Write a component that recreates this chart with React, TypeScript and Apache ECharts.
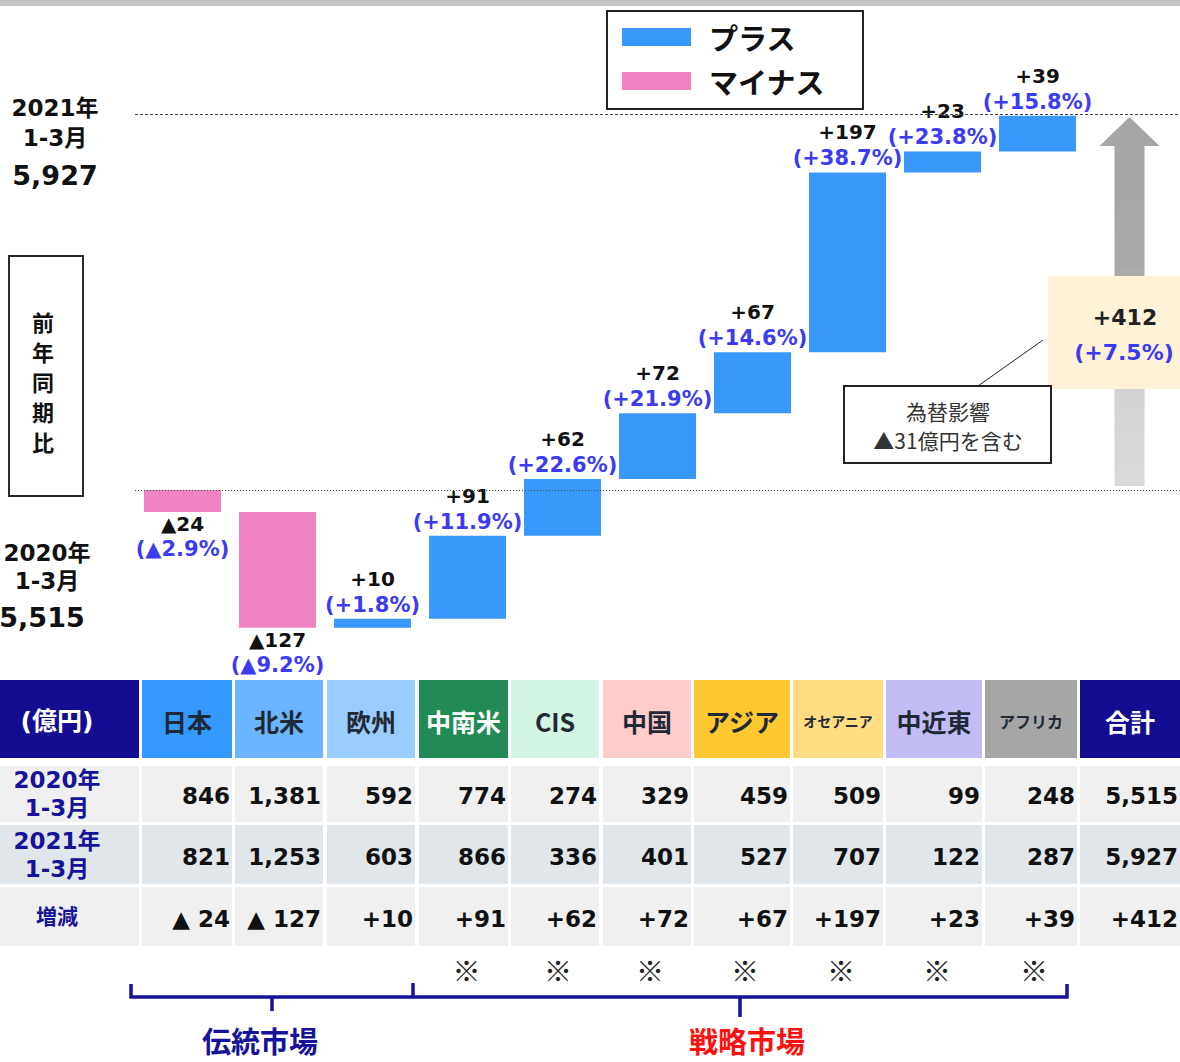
import React, { useEffect, useRef } from 'react';
import * as echarts from 'echarts';

// ---------- data ----------
const regions = ['日本', '北米', '欧州', '中南米', 'CIS', '中国', 'アジア', 'オセアニア', '中近東', 'アフリカ'];
const totalName = '合計';
const sales2020 = [846, 1381, 592, 774, 274, 329, 459, 509, 99, 248];
const sales2021 = [821, 1253, 603, 866, 336, 401, 527, 707, 122, 287];
const deltas = [-24, -127, 10, 91, 62, 72, 67, 197, 23, 39];
const pcts = [-2.9, -9.2, 1.8, 11.9, 22.6, 21.9, 14.6, 38.7, 23.8, 15.8];
const strategic = [false, false, false, true, true, true, true, true, true, true];
const total2020 = 5515;
const total2021 = 5927;
const totalDelta = 412;
const totalPct = 7.5;
const fxNote = ['為替影響', '▲31億円を含む'];
const rowLabels = ['2020年\n1-3月', '2021年\n1-3月', '増減'];
const unitLabel = '(億円)';
const sideTitle = ['前', '年', '同', '期', '比'];
const groupLabels = ['伝統市場', '戦略市場'];
const legendNames = ['プラス', 'マイナス'];

// ---------- styles ----------
const NUM = "'DejaVu Sans', 'Noto Sans CJK JP', sans-serif";
const JP = "'Noto Sans CJK JP', 'DejaVu Sans', sans-serif";
const BLUE = '#3898fc';
const PINK = '#ef82c1';
const PCT = '#3b3bf2';
const NAVY = '#16129a';
const headerFills = ['#140c91', '#3399ff', '#6bb5ff', '#99ccff', '#218a55', '#d3f5e3', '#ffcccc', '#ffc830', '#ffdd80', '#c3bdf7', '#a6a6a6', '#140c91'];
const headerInk = ['#fff', '#1f2a36', '#1f2a36', '#1f2a36', '#fff', '#1f2a36', '#1f2a36', '#1f2a36', '#1f2a36', '#1f2a36', '#1f2a36', '#fff'];
const headerSize = [25, 25, 25, 25, 25, 25, 25, 25, 14, 25, 16, 25];
const colX = [0, 142, 235, 327, 419, 511, 603, 694, 793, 886, 985, 1080];
const colW = [139, 90, 88, 88, 89, 88, 88, 96, 90, 96, 92, 100];
const rowY = [680, 766, 825, 887];
const rowH = [78, 56, 59, 59];
const rowFill = ['#f0f0f0', '#e1e6eb', '#f0f0f0'];

const fmt = (n: number) => n.toLocaleString('en-US');

function txt(x: number, y: number, text: string, o: any = {}) {
  const align = o.align || 'center';
  return {
    type: 'text',
    x,
    y,
    z: o.z ?? 50,
    silent: true,
    style: {
      text,
      fill: o.fill || '#111',
      fontSize: o.size || 20,
      fontWeight: o.weight || 'bold',
      fontFamily: o.family || NUM,
      lineHeight: o.lh,
      align,
      textAlign: align,
      verticalAlign: 'middle',
      textVerticalAlign: 'middle',
    },
  };
}

export default function App() {
  const ref = useRef<HTMLDivElement>(null);

  useEffect(() => {
    document.body.style.margin = '0';
    const chart = echarts.init(ref.current!, null, { renderer: 'svg' });

    // waterfall stacks
    let cum = total2020;
    const base: any[] = [];
    const plus: any[] = [];
    const minus: any[] = [];
    deltas.forEach((d) => {
      const next = cum + d;
      base.push(Math.min(cum, next));
      if (d >= 0) {
        plus.push(d);
        minus.push('-');
      } else {
        plus.push('-');
        minus.push(-d);
      }
      cum = next;
    });
    base.push('-');
    plus.push('-');
    minus.push('-');

    const graphic: any[] = [];
    // top band
    graphic.push({ type: 'rect', shape: { x: 0, y: 0, width: 1180, height: 6 }, style: { fill: '#c3c3c3' } });
    // legend frame
    graphic.push({ type: 'rect', shape: { x: 607, y: 11, width: 256, height: 98 }, style: { fill: 'none', stroke: '#222', lineWidth: 2 } });

    // left labels
    graphic.push(txt(55, 123, '2021年\n1-3月', { size: 23, lh: 30 }));
    graphic.push(txt(55, 175, fmt(total2021), { size: 27 }));
    graphic.push(txt(47, 567, '2020年\n1-3月', { size: 23, lh: 28 }));
    graphic.push(txt(42, 617, fmt(total2020), { size: 27 }));
    graphic.push({ type: 'rect', shape: { x: 9, y: 256, width: 74, height: 240 }, style: { fill: 'none', stroke: '#2a2a2a', lineWidth: 2 } });
    sideTitle.forEach((ch, i) => {
      graphic.push(txt(43, 321 + i * 30, ch, { size: 22, family: JP }));
    });

    // total box and note
    graphic.push({ type: 'rect', z: 100, shape: { x: 1048, y: 276, width: 132, height: 113 }, style: { fill: '#fff2d6' } });
    graphic.push(txt(1125, 317, '+' + totalDelta, { size: 22, z: 101, fill: '#222' }));
    graphic.push(txt(1124, 352, '(+' + totalPct.toFixed(1) + '%)', { size: 22, z: 101, fill: PCT }));
    graphic.push({ type: 'line', z: 100, shape: { x1: 978, y1: 386, x2: 1043, y2: 340 }, style: { stroke: '#222', lineWidth: 1 } });
    graphic.push({ type: 'rect', z: 100, shape: { x: 844, y: 386, width: 207, height: 77 }, style: { fill: '#fff', stroke: '#222', lineWidth: 2 } });
    graphic.push(txt(948, 411, fxNote[0], { size: 21, weight: 'normal', family: JP, fill: '#333', z: 101 }));
    graphic.push(txt(948, 440, fxNote[1], { size: 21, weight: 'normal', family: JP, fill: '#333', z: 101 }));

    // table
    const headers = [unitLabel, ...regions, totalName];
    headers.forEach((h, c) => {
      graphic.push({ type: 'rect', shape: { x: colX[c], y: rowY[0], width: colW[c], height: rowH[0] }, style: { fill: headerFills[c] } });
      const cx = c === 0 ? 57 : colX[c] + colW[c] / 2;
      graphic.push(txt(cx, rowY[0] + rowH[0] / 2 + 2, h, { size: headerSize[c], fill: headerInk[c], family: c === 0 ? NUM : JP }));
    });
    const rowsData = [
      [...sales2020.map(fmt), fmt(total2020)],
      [...sales2021.map(fmt), fmt(total2021)],
      [...deltas.map((d) => (d < 0 ? '▲ ' + -d : '+' + d)), '+' + totalDelta],
    ];
    rowsData.forEach((vals, r) => {
      const y = rowY[r + 1];
      const h = rowH[r + 1];
      for (let c = 0; c < colX.length; c++) {
        graphic.push({ type: 'rect', shape: { x: colX[c], y, width: colW[c], height: h }, style: { fill: rowFill[r] } });
      }
      graphic.push(txt(57, y + h / 2, rowLabels[r], { size: r === 2 ? 21 : 23, fill: NAVY, lh: 28 }));
      vals.forEach((v, i) => {
        const c = i + 1;
        graphic.push(txt(colX[c] + colW[c] - 2, y + h / 2 + 2, v, { size: 23, align: 'right', fill: '#111' }));
      });
    });

    // ※ marks
    strategic.forEach((s, i) => {
      if (s) graphic.push(txt(colX[i + 1] + colW[i + 1] / 2 + 3, 970, '※', { size: 28, weight: 'normal', family: JP, fill: '#222' }));
    });
    // brackets
    const bs = { stroke: NAVY, lineWidth: 3.5, fill: 'none' };
    graphic.push({ type: 'polyline', shape: { points: [[131, 984], [131, 997], [1067, 997], [1067, 984]] }, style: bs });
    graphic.push({ type: 'line', shape: { x1: 413, y1: 997, x2: 413, y2: 983 }, style: bs });
    graphic.push({ type: 'line', shape: { x1: 272, y1: 997, x2: 272, y2: 1011 }, style: bs });
    graphic.push({ type: 'line', shape: { x1: 740, y1: 997, x2: 740, y2: 1017 }, style: bs });
    graphic.push(txt(260, 1040, groupLabels[0], { size: 29, family: JP, fill: NAVY }));
    graphic.push(txt(747, 1040, groupLabels[1], { size: 29, family: JP, fill: '#ff1010' }));

    const rich = {
      v: { fontFamily: NUM, fontSize: 20, fontWeight: 'bold', color: '#111', lineHeight: 26 },
      p: { fontFamily: NUM, fontSize: 21, fontWeight: 'bold', color: PCT, lineHeight: 26 },
    };

    chart.setOption({
      animation: false,
      grid: { left: 135, right: 0, top: 47.38, bottom: 375.79 },
      xAxis: { type: 'category', data: [...regions, totalName], show: false },
      yAxis: { type: 'value', min: 5300, max: 6000, show: false, splitLine: { show: false } },
      legend: {
        data: legendNames,
        orient: 'vertical',
        left: 622,
        top: 22,
        padding: 0,
        itemWidth: 69,
        itemHeight: 18,
        itemGap: 14,
        icon: 'rect',
        selectedMode: false,
        textStyle: { fontSize: 29, fontWeight: 'bold', fontFamily: JP, color: '#111', lineHeight: 30, padding: [0, 0, 0, 13] },
      },
      graphic: { elements: graphic },
      series: [
        {
          name: 'base',
          type: 'bar',
          stack: 'w',
          barWidth: 77,
          data: base,
          itemStyle: { color: 'transparent' },
          silent: true,
          markLine: {
            silent: true,
            symbol: 'none',
            label: { show: false },
            data: [
              { yAxis: total2021, lineStyle: { color: '#444', width: 1, type: [3, 2] } },
              { yAxis: total2020, lineStyle: { color: '#444', width: 1, type: [1, 2] } },
            ],
          },
        },
        {
          name: legendNames[0],
          type: 'bar',
          stack: 'w',
          barWidth: 77,
          data: plus,
          itemStyle: { color: BLUE },
          label: {
            show: true,
            position: 'top',
            distance: 1,
            rich,
            formatter: (p: any) => `{v|+${deltas[p.dataIndex]}}\n{p|(+${pcts[p.dataIndex].toFixed(1)}%)}`,
          },
        },
        {
          name: legendNames[1],
          type: 'bar',
          stack: 'w',
          barWidth: 77,
          data: minus,
          itemStyle: { color: PINK },
          label: {
            show: true,
            position: 'bottom',
            distance: 0,
            rich: {
              v: { ...rich.v, lineHeight: 24 },
              p: { ...rich.p, lineHeight: 26 },
            },
            formatter: (p: any) => `{v|▲${-deltas[p.dataIndex]}}\n{p|(▲${(-pcts[p.dataIndex]).toFixed(1)}%)}`,
          },
        },
        {
          name: 'total',
          type: 'custom',
          silent: true,
          encode: { x: 0, y: [1, 2] },
          data: [[regions.length, total2020, total2021]],
          renderItem: (params: any, api: any) => {
            const top = api.coord([api.value(0), api.value(2)]);
            const bot = api.coord([api.value(0), api.value(1)]);
            const cx = top[0] - 3;
            const ty = top[1] + 3;
            const by = bot[1] - 4;
            const hh = 29;
            const hw = 30;
            const sw = 15;
            return {
              type: 'polygon',
              shape: {
                points: [
                  [cx, ty], [cx + hw, ty + hh], [cx + sw, ty + hh], [cx + sw, by],
                  [cx - sw, by], [cx - sw, ty + hh], [cx - hw, ty + hh],
                ],
              },
              style: {
                fill: new echarts.graphic.LinearGradient(0, 0, 0, 1, [
                  { offset: 0, color: '#a5a5a5' },
                  { offset: 0.4, color: '#a9a9a9' },
                  { offset: 0.72, color: '#d2d2d2' },
                  { offset: 1, color: '#dadada' },
                ]),
              },
            };
          },
        },
      ],
    });

    return () => chart.dispose();
  }, []);

  return <div ref={ref} style={{ width: 1180, height: 1062 }} />;
}
